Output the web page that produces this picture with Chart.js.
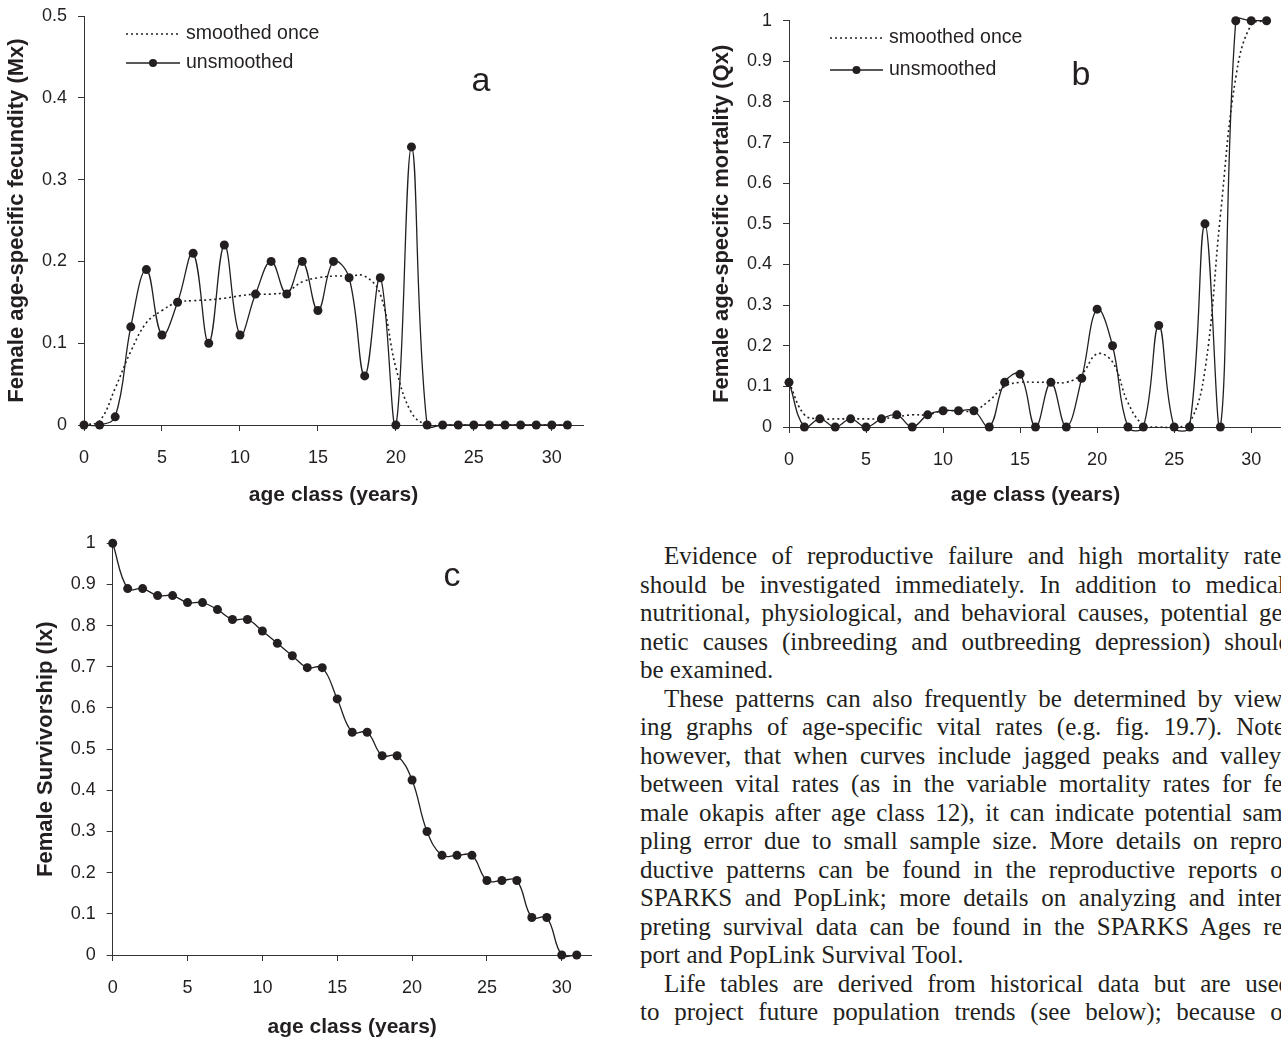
<!DOCTYPE html>
<html>
<head>
<meta charset="utf-8">
<script src="https://cdn.jsdelivr.net/npm/chart.js@4.4.1/dist/chart.umd.min.js"></script>
<style>
  html, body { margin: 0; padding: 0; background: #fff; }
  #page { position: relative; width: 1281px; height: 1038px; overflow: hidden; background: #fff; }
  canvas { position: absolute; }
  #text { position: absolute; left: 640px; top: 542px; font-family: 'Liberation Serif', serif; font-size: 25px; line-height: 28.5px; color: #231f20; }
  #text div { white-space: nowrap; width: 651px; text-align: justify; text-align-last: justify; }
  #text div.ind { padding-left: 24px; width: 627px; }
  #text div.end { text-align-last: left; }
</style>
</head>
<body>
<div id="page">
  <canvas id="chartA" width="640" height="530" style="left:0px;top:-10px"></canvas>
  <canvas id="chartB" width="600" height="530" style="left:700px;top:-10px"></canvas>
  <canvas id="chartC" width="640" height="540" style="left:0px;top:510px"></canvas>
  <div id="text">
    <div class="ind">Evidence of reproductive failure and high mortality rates</div>
    <div>should be investigated immediately. In addition to medical,</div>
    <div>nutritional, physiological, and behavioral causes, potential ge-</div>
    <div>netic causes (inbreeding and outbreeding depression) should</div>
    <div class="end">be examined.</div>
    <div class="ind">These patterns can also frequently be determined by view-</div>
    <div>ing graphs of age-specific vital rates (e.g. fig. 19.7). Note,</div>
    <div>however, that when curves include jagged peaks and valleys</div>
    <div>between vital rates (as in the variable mortality rates for fe-</div>
    <div>male okapis after age class 12), it can indicate potential sam-</div>
    <div>pling error due to small sample size. More details on repro-</div>
    <div>ductive patterns can be found in the reproductive reports of</div>
    <div>SPARKS and PopLink; more details on analyzing and inter-</div>
    <div>preting survival data can be found in the SPARKS Ages re-</div>
    <div class="end">port and PopLink Survival Tool.</div>
    <div class="ind">Life tables are derived from historical data but are used</div>
    <div>to project future population trends (see below); because of</div>
  </div>
</div>
<script>
const ages = [0, 1, 2, 3, 4, 5, 6, 7, 8, 9, 10, 11, 12, 13, 14, 15, 16, 17, 18, 19, 20, 21, 22, 23, 24, 25, 26, 27, 28, 29, 30, 31];
const fecundityRaw = [0, 0, 0.01, 0.12, 0.19, 0.11, 0.15, 0.21, 0.10, 0.22, 0.11, 0.16, 0.20, 0.16, 0.20, 0.14, 0.20, 0.18, 0.06, 0.18, 0, 0.34, 0, 0, 0, 0, 0, 0, 0, 0, 0, 0];
const fecunditySmooth = [0, 0.005, 0.045, 0.09, 0.125, 0.14, 0.15, 0.152, 0.153, 0.155, 0.158, 0.16, 0.16, 0.163, 0.175, 0.18, 0.182, 0.182, 0.182, 0.16, 0.07, 0.015, 0, 0, 0, 0, 0, 0, 0, 0, 0, 0];
const mortalityRaw = [0.11, 0, 0.02, 0, 0.02, 0, 0.02, 0.03, 0, 0.03, 0.04, 0.04, 0.04, 0, 0.11, 0.13, 0, 0.11, 0, 0.12, 0.29, 0.20, 0, 0, 0.25, 0, 0, 0.50, 0, 1, 1, 1];
const mortalitySmooth = [0.11, 0.03, 0.02, 0.02, 0.02, 0.02, 0.02, 0.025, 0.03, 0.03, 0.04, 0.04, 0.04, 0.065, 0.10, 0.11, 0.11, 0.11, 0.11, 0.13, 0.18, 0.16, 0.06, 0.005, 0, 0, 0.01, 0.14, 0.52, 0.86, 0.99, 1];
const survivorship = [1, 0.89, 0.89, 0.873, 0.873, 0.856, 0.856, 0.839, 0.815, 0.815, 0.787, 0.757, 0.727, 0.698, 0.698, 0.622, 0.541, 0.541, 0.484, 0.484, 0.425, 0.30, 0.242, 0.242, 0.242, 0.181, 0.181, 0.181, 0.091, 0.091, 0, 0];
const xTicks = [0, 5, 10, 15, 20, 25, 30];

const ink = '#231f20';
const pts = arr => ages.map((a, i) => ({ x: a, y: arr[i] }));

function rawSet(label, arr) {
  return {
    label, data: pts(arr),
    borderColor: ink, borderWidth: 1.3,
    pointRadius: 4.5, pointHoverRadius: 4.5, pointBackgroundColor: ink, pointBorderWidth: 0,
    tension: 0.4, clip: false
  };
}
function smoothSet(label, arr) {
  return {
    label, data: pts(arr),
    borderColor: ink, borderWidth: 1.6, borderDash: [2, 3],
    pointRadius: 0, tension: 0.4, clip: false
  };
}

// legend + panel letter, page coordinates shifted by the canvas offset
function overlay(o) {
  return {
    id: 'overlay',
    afterDraw(chart) {
      const ctx = chart.ctx;
      ctx.save();
      ctx.fillStyle = ink;
      ctx.strokeStyle = ink;
      if (o.legend) {
        const L = o.legend;
        ctx.lineWidth = 1.6;
        ctx.setLineDash([2, 3]);
        ctx.beginPath(); ctx.moveTo(L.x0 - o.dx, L.y1 - o.dy); ctx.lineTo(L.x1 - o.dx, L.y1 - o.dy); ctx.stroke();
        ctx.setLineDash([]);
        ctx.lineWidth = 1.3;
        ctx.beginPath(); ctx.moveTo(L.x0 - o.dx, L.y2 - o.dy); ctx.lineTo(L.x1 - o.dx, L.y2 - o.dy); ctx.stroke();
        ctx.beginPath(); ctx.arc((L.x0 + L.x1) / 2 - o.dx, L.y2 - o.dy, 4, 0, Math.PI * 2); ctx.fill();
        ctx.font = '19.5px "Liberation Sans", Arial, sans-serif';
        ctx.textBaseline = 'middle';
        ctx.textAlign = 'left';
        ctx.fillText('smoothed once', L.tx - o.dx, L.y1 - o.dy);
        ctx.fillText('unsmoothed', L.tx - o.dx, L.y2 - o.dy);
      }
      ctx.font = '34px "Liberation Sans", Arial, sans-serif';
      ctx.textAlign = 'center';
      ctx.textBaseline = 'middle';
      ctx.fillText(o.letter, o.lx - o.dx, o.ly - o.dy);
      ctx.restore();
    }
  };
}

function makeChart(id, c) {
  const area = c.area;
  const yW = 80;
  const xTitleSize = 21, yTitleSize = 22;
  const xH = c.titleY - area.bottom + xTitleSize * 1.2 / 2;
  return new Chart(document.getElementById(id), {
    type: 'line',
    data: { datasets: c.datasets },
    options: {
      responsive: false, animation: false, devicePixelRatio: 1,
      layout: {
        padding: {
          left: area.left - yW - c.left,
          right: c.left + c.width - area.right,
          top: area.top - c.top,
          bottom: c.top + c.height - area.bottom - xH
        }
      },
      elements: { line: { capBezierPoints: false } },
      plugins: { legend: { display: false }, tooltip: { enabled: false } },
      scales: {
        x: {
          type: 'linear', min: 0, max: 32,
          afterBuildTicks: s => { s.ticks = xTicks.map(v => ({ value: v })); },
          afterFit: s => { s.height = xH; },
          ticks: { padding: 16, color: ink, font: { family: '"Liberation Sans Narrow", "Liberation Sans", sans-serif', size: 18 } },
          grid: { drawOnChartArea: false, drawTicks: true, tickLength: 6, color: '#333' },
          border: { display: true, color: '#333', width: 1 },
          title: { display: true, text: 'age class (years)', color: ink, padding: 0, font: { family: '"Liberation Sans", Arial, sans-serif', size: xTitleSize, weight: 'bold' } }
        },
        y: {
          min: 0, max: c.ymax,
          afterBuildTicks: s => { s.ticks = c.yTicks.map(v => ({ value: v })); },
          afterFit: s => { s.width = yW; },
          ticks: { padding: 11, color: ink, callback: v => String(Math.round(v * 10) / 10), font: { family: '"Liberation Sans Narrow", "Liberation Sans", sans-serif', size: 18 } },
          grid: { drawOnChartArea: false, drawTicks: true, tickLength: 6, color: '#333' },
          border: { display: true, color: '#333', width: 1 },
          title: { display: true, text: c.yTitle, color: ink, padding: 0, font: { family: '"Liberation Sans", Arial, sans-serif', size: yTitleSize, weight: 'bold' } }
        }
      }
    },
    plugins: [overlay(c.overlay)]
  });
}

const ticksHalf = [0, 0.1, 0.2, 0.3, 0.4, 0.5];
const ticksOne = [0, 0.1, 0.2, 0.3, 0.4, 0.5, 0.6, 0.7, 0.8, 0.9, 1];

makeChart('chartA', {
  left: 0, top: -10, width: 640, height: 530,
  area: { left: 84, top: 16, right: 583, bottom: 425 }, titleY: 495,
  ymax: 0.5, yTicks: ticksHalf, yTitle: 'Female age-specific fecundity (Mx)',
  datasets: [smoothSet('smoothed once', fecunditySmooth), rawSet('unsmoothed', fecundityRaw)],
  overlay: { dx: 0, dy: -10, letter: 'a', lx: 481, ly: 82,
    legend: { x0: 126, x1: 180, y1: 34, y2: 63, tx: 186 } }
});

makeChart('chartB', {
  left: 700, top: -10, width: 600, height: 530,
  area: { left: 789, top: 20.7, right: 1282, bottom: 427 }, titleY: 495,
  ymax: 1, yTicks: ticksOne, yTitle: 'Female age-specific mortality (Qx)',
  datasets: [smoothSet('smoothed once', mortalitySmooth), rawSet('unsmoothed', mortalityRaw)],
  overlay: { dx: 700, dy: -10, letter: 'b', lx: 1081, ly: 76,
    legend: { x0: 830, x1: 883, y1: 38, y2: 70, tx: 889 } }
});

makeChart('chartC', {
  left: 0, top: 510, width: 640, height: 540,
  area: { left: 112.7, top: 543.3, right: 591.7, bottom: 955 }, titleY: 1027,
  ymax: 1, yTicks: ticksOne, yTitle: 'Female Survivorship (lx)',
  datasets: [rawSet('survivorship', survivorship)],
  overlay: { dx: 0, dy: 510, letter: 'c', lx: 452, ly: 577 }
});
</script>
</body>
</html>
